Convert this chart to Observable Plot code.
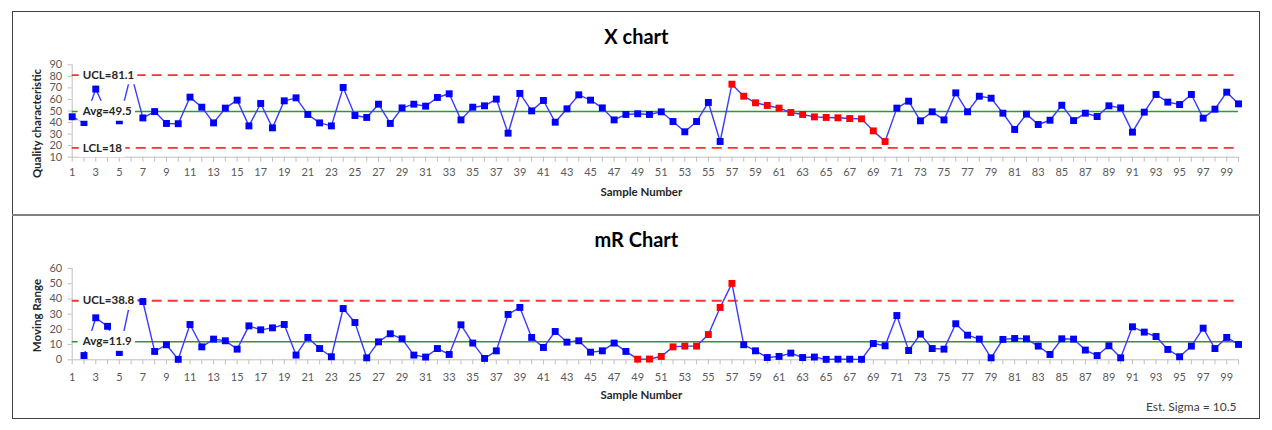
<!DOCTYPE html>
<html><head><meta charset="utf-8">
<script src="https://cdn.jsdelivr.net/npm/d3@7"></script>
<script src="https://cdn.jsdelivr.net/npm/@observablehq/plot@0.6"></script>
<style>
html,body{margin:0;padding:0;background:#fff;}
#wrap{position:relative;width:1272px;height:430px;overflow:hidden;background:#fff;}
#frame{position:absolute;left:12px;top:11px;width:1248px;height:408px;box-sizing:border-box;border:1.5px solid #404040;}
#divider{position:absolute;left:12px;top:214px;width:1248px;height:1.5px;background:#808080;}
.panel{position:absolute;left:13px;width:1246px;height:203px;}
#p1{top:12px} #p2{top:215px}
</style></head><body>
<div id="wrap"><div id="frame"></div><div id="divider"></div><div class="panel" id="p1"></div><div class="panel" id="p2"></div></div>
<script>
// Sample numbers (categories)
const samples = d3.range(1, 101);
// X chart: individual values
const xValues = [45,40,69,46.5,41.5,82.3,44,49.5,39.2,39,
  62,53.3,39.7,52.5,59.4,37.1,56.5,35.4,58.8,61.4,
  47,39.7,37.1,70.4,46.1,44.4,55.9,39.2,52.7,55.9,
  54.2,61.7,64.9,42.3,53.3,54.5,60.3,30.8,65.2,50.1,
  59.1,40.3,51.9,64,59.4,52.7,42.3,47,47.6,47,
  49.3,40.9,32,40.9,57.4,23.6,73.2,62.8,57.1,54.8,
  52.5,48.7,47,44.9,44.4,44.1,43.5,43.2,32.8,23.6,
  52.5,58.5,41.5,49.3,42.3,65.7,49.3,62.8,61.1,48.1,
  34,47.3,38.3,42,55,41.7,48.1,45.2,54.5,52.7,
  31.7,49,64.3,57.7,55.6,64.3,43.8,51.6,66.3,56.2];
// mR chart: moving ranges (sample 1 has none)
const mrValues = [null,2.8,27.6,22,4.8,40.8,38.3,5.5,9.9,0.3,
  23.2,8.5,13.6,12.5,7,22.3,19.7,21,23.2,3.1,
  14.7,7.4,2,33.7,24.5,1.3,11.8,17.1,13.8,3.1,
  1.8,7.4,3.5,23,11,0.9,5.9,29.8,34.4,14.7,
  8.1,18.6,11.6,12.5,5,5.9,11,5.5,0.4,0.5,
  2.2,8.5,9,9,16.6,34.4,50.2,9.9,5.9,1.5,
  2.2,4.4,1.5,1.8,0.3,0.4,0.4,0.3,10.7,9.2,
  29.1,6.1,16.9,7.4,7,23.7,16.2,13.6,1.3,13.4,
  14,13.8,9,3.5,13.8,13.6,6.4,2.8,9.2,1.3,
  21.7,18.2,15.3,6.8,2,9,20.8,7.4,14.7,10.1];
// flagged (red) samples
const xRedSamples = [57,58,59,60,61,62,63,64,65,66,67,68,69,70];
const mrRedSamples = [49,50,51,52,53,54,55,56,57];
// axis ticks
const xChartYTicks = [10,20,30,40,50,60,70,80,90];
const mrChartYTicks = [0,10,20,30,40,50,60];
// control limits
const xUCL = 81.1, xAvg = 49.5, xLCL = 18;
const mrUCL = 38.8, mrAvg = 11.9;
const estSigma = 10.5;

const FONT = "Lato, 'Liberation Sans', sans-serif";

function controlChart(o) {
  const pts = samples.map((n, i) => ({n, v: o.values[i], red: o.red.includes(n)})).filter(d => d.v != null);
  const limits = [{v: o.ucl, label: "UCL=" + o.ucl}, {v: o.avg, label: "Avg=" + o.avg}];
  if (o.lcl != null) limits.push({v: o.lcl, label: "LCL=" + o.lcl});
  const marks = [
    Plot.ruleX([samples[0]], {stroke: "#bfbfbf"}),
    Plot.ruleY([o.yDomain[0]], {stroke: "#bfbfbf"}),
    Plot.ruleY([o.avg], {stroke: "#2a9a2a", strokeWidth: 1.5}),
    Plot.ruleY(o.lcl != null ? [o.ucl, o.lcl] : [o.ucl], {stroke: "#ff3030", strokeWidth: 1.8, strokeDasharray: "10,6"}),
    Plot.line(pts, {x: "n", y: "v", stroke: "#3a3aff", strokeWidth: 1.4}),
    Plot.dot(pts.filter(d => !d.red), {x: "n", y: "v", symbol: "square", r: 3.9, fill: "#0000ff"}),
    Plot.dot(pts.filter(d => d.red), {x: "n", y: "v", symbol: "square", r: 3.9, fill: "#ff0000"}),
    Plot.text(limits, {x: () => samples[0], y: "v", text: "label", textAnchor: "start", dx: 10.5, fontWeight: "bold", fontSize: 11.5, fill: "#262626", ariaLabel: "ctl-label"}),
    Plot.text([o.title], {frameAnchor: "top", lineAnchor: "middle", textAnchor: "middle", dx: -19, dy: -27.5, fontSize: 20, fontWeight: "bold", fill: "#000"}),
    Plot.text([o.yLabel], {frameAnchor: "left", textAnchor: "middle", lineAnchor: "middle", rotate: -90, dx: -35, dy: o.yLabelDy, fontSize: 11.5, fontWeight: "bold", fill: "#262626"}),
    Plot.text(["Sample Number"], {frameAnchor: "bottom", textAnchor: "middle", lineAnchor: "middle", dx: -14, dy: o.xLabelDy, fontSize: 11.5, fontWeight: "bold", fill: "#262626"})
  ];
  if (o.footer) marks.push(Plot.text([o.footer], {frameAnchor: "bottom-right", textAnchor: "end", lineAnchor: "middle", dx: -2, dy: 47.2, fontSize: 12, fill: "#404040"}));
  return Plot.plot({
    width: 1246, height: 203,
    marginLeft: 58.7, marginRight: 21, marginTop: o.marginTop, marginBottom: o.marginBottom,
    style: {fontFamily: FONT, fontSize: "11px", color: "#595959", background: "transparent", overflow: "visible"},
    x: {domain: [1, 100], ticks: samples, tickFormat: d => (d % 2 === 1 ? String(d) : ""), tickSize: 5, tickPadding: o.xTickPad, label: null},
    y: {domain: o.yDomain, ticks: o.yTicks, tickSize: 4, tickPadding: 6, label: null},
    marks
  });
}

function finish(svg) {
  svg.querySelectorAll('[aria-label^="x-axis"] line, [aria-label="x-axis tick"] path, [aria-label^="y-axis"] line, [aria-label="y-axis tick"] path')
    .forEach(el => { el.style.stroke = "#bfbfbf"; });
  const ns = "http://www.w3.org/2000/svg";
  const texts = Array.from(svg.querySelectorAll("text")).filter(t => /^(UCL|Avg|LCL)=/.test(t.textContent));
  texts.forEach(t => {
    let bb;
    try { bb = t.getBBox(); } catch (e) { return; }
    const r = document.createElementNS(ns, "rect");
    r.setAttribute("x", bb.x - 4);
    r.setAttribute("y", bb.y + bb.height / 2 - 10);
    r.setAttribute("width", bb.width + 7);
    r.setAttribute("height", 20);
    r.setAttribute("fill", "#ffffff");
    r.setAttribute("stroke", "none");
    const tr = t.getAttribute("transform");
    if (tr) r.setAttribute("transform", tr);
    t.parentNode.insertBefore(r, t);
  });
}

const c1 = controlChart({values: xValues, red: xRedSamples, yDomain: [10, 90], yTicks: xChartYTicks,
  ucl: xUCL, avg: xAvg, lcl: xLCL, title: "X chart", yLabel: "Quality characteristic", yLabelDy: 12.5,
  xTickPad: 6.3, xLabelDy: 34.8, marginTop: 52.3, marginBottom: 58.3});
document.getElementById("p1").appendChild(c1);
finish(c1);

const c2 = controlChart({values: mrValues, red: mrRedSamples, yDomain: [0, 60], yTicks: mrChartYTicks,
  ucl: mrUCL, avg: mrAvg, lcl: null, title: "mR Chart", yLabel: "Moving Range", yLabelDy: 1.4,
  xTickPad: 8.7, xLabelDy: 35.7, marginTop: 53, marginBottom: 58.7, footer: "Est. Sigma = " + estSigma});
document.getElementById("p2").appendChild(c2);
finish(c2);
</script>
</body></html>
